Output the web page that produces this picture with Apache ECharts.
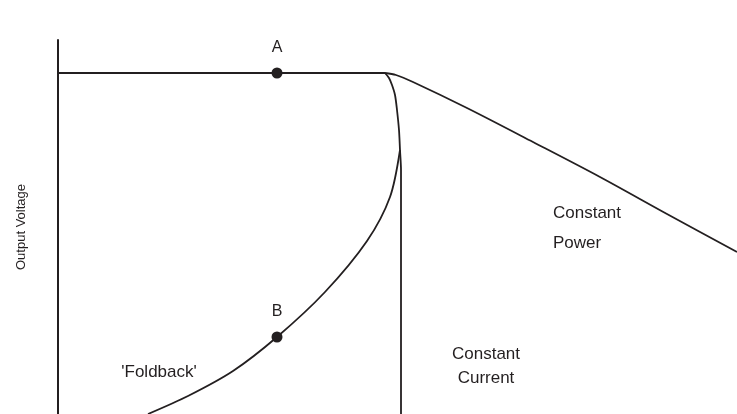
<!DOCTYPE html>
<html>
<head>
<meta charset="utf-8">
<script src="https://cdn.jsdelivr.net/npm/echarts@6/dist/echarts.min.js"></script>
<style>
  html, body { margin: 0; padding: 0; background: #fff; }
  #chart { width: 737px; height: 414px; }
</style>
</head>
<body>
<div id="chart"></div>
<script>
// output current (x) / output voltage (y), arbitrary units
const constVoltage = [[0, 34.1], [32.7, 34.1]];
const constCurrent = [[32.7, 34.1], [33.1, 33.6], [33.4, 32.9], [33.7, 31.9], [33.9, 30.4], [34.1, 28.4],
  [34.2, 26.4], [34.3, 24.4], [34.3, 21.4], [34.3, 0]];
const constPower = [[32.7, 34.1], [33.8, 33.9], [35.5, 33.2], [40.9, 30.6], [47.5, 27.2],
  [54.2, 23.7], [60.9, 20.0], [67.9, 16.2]];
const foldback = [[9.0, 0], [13.0, 1.8], [17.5, 4.3], [21.9, 7.7], [26.7, 12.2],
  [30.9, 17.3], [33.2, 21.7], [34.2, 26.4]];
const points = [{ name: 'A', value: [21.9, 34.1] }, { name: 'B', value: [21.9, 7.7] }];

const ink = '#231f20';
const font = 'Liberation Sans, Arial, sans-serif';

const lineSeries = (data, smooth) => ({
  type: 'line',
  data: data,
  smooth: smooth,
  showSymbol: false,
  silent: true,
  lineStyle: { color: ink, width: 1.8 }
});

const chart = echarts.init(document.getElementById('chart'));
chart.setOption({
  animation: false,
  grid: { left: 58, right: 0, top: 40, bottom: 0 },
  xAxis: {
    type: 'value', min: 0, max: 67.9,
    axisLine: { show: false }, axisTick: { show: false }, axisLabel: { show: false }, splitLine: { show: false }
  },
  yAxis: {
    type: 'value', min: 0, max: 37.4,
    name: 'Output Voltage', nameLocation: 'middle', nameGap: 30, nameRotate: 90,
    nameTextStyle: { color: ink, fontSize: 13, fontFamily: font },
    axisLine: { show: true, lineStyle: { color: ink, width: 2 } },
    axisTick: { show: false }, axisLabel: { show: false }, splitLine: { show: false }
  },
  graphic: [
    { type: 'text', x: 486, y: 366, style: { text: 'Constant\nCurrent', fill: ink, font: '17px ' + font, textAlign: 'center', textVerticalAlign: 'middle', lineHeight: 24 } },
    { type: 'text', x: 553, y: 228, style: { text: 'Constant\nPower', fill: ink, font: '17px ' + font, textAlign: 'left', textVerticalAlign: 'middle', lineHeight: 30 } },
    { type: 'text', x: 159, y: 372, style: { text: "'Foldback'", fill: ink, font: '17px ' + font, textAlign: 'center', textVerticalAlign: 'middle' } }
  ],
  series: [
    lineSeries(constVoltage, false),
    lineSeries(constCurrent, 0.3),
    lineSeries(constPower, 0.3),
    lineSeries(foldback, 0.3),
    {
      type: 'scatter',
      data: points,
      symbolSize: 11,
      itemStyle: { color: ink, opacity: 1 },
      label: {
        show: true, position: 'top', distance: 12,
        formatter: '{b}', color: ink, fontSize: 16, fontFamily: font
      },
      z: 5
    }
  ]
});
</script>
</body>
</html>
